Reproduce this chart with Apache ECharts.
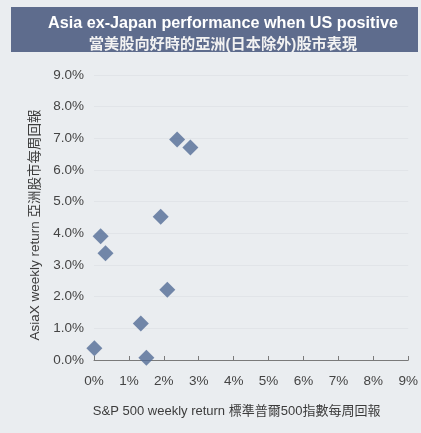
<!DOCTYPE html>
<html>
<head>
<meta charset="utf-8">
<script src="https://cdn.jsdelivr.net/npm/echarts@6/dist/echarts.min.js"></script>
<style>
  html, body { margin: 0; padding: 0; background: #eaedf0; }
  #chart { width: 421px; height: 433px; }
</style>
</head>
<body>
<div id="chart"></div>
<script>
// S&P 500 weekly return (%) vs AsiaX weekly return (%)
const spReturn   = [2.38, 2.76, 1.91, 0.19, 0.33, 2.10, 1.34, 0.01, 1.50];
const asiaReturn = [6.96, 6.71, 4.52, 3.91, 3.37, 2.22, 1.15, 0.37, 0.07];

const titleLine1 = 'Asia ex-Japan performance when US positive';
const titleLine2 = '當美股向好時的亞洲(日本除外)股市表現';
const xName = 'S&P 500 weekly return 標準普爾500指數每周回報';
const yName = 'AsiaX weekly return 亞洲股市每周回報';

const font = 'Arial, "Liberation Sans", "Noto Sans CJK TC", sans-serif';

const chart = echarts.init(document.getElementById('chart'));

const option = {
  backgroundColor: '#eaedf0',
  animation: false,
  graphic: [
    {
      type: 'rect',
      shape: { x: 11, y: 7, width: 407, height: 45 },
      style: { fill: '#5e6c8d' },
      z: 0
    }
  ],
  title: {
    text: titleLine1,
    subtext: titleLine2,
    left: 218,
    top: 10,
    textAlign: 'center',
    itemGap: 4,
    textStyle: { color: '#ffffff', fontSize: 16.2, fontWeight: 'bold', fontFamily: font, lineHeight: 18 },
    subtextStyle: { color: '#f2f2f2', fontSize: 15.2, fontWeight: 'bold', fontFamily: font, lineHeight: 16 },
    z: 5
  },
  grid: { left: 94, right: 11, top: 75, bottom: 73 },
  xAxis: {
    type: 'value',
    min: 0,
    max: 9,
    interval: 1,
    name: xName,
    nameLocation: 'middle',
    nameGap: 45,
    nameTextStyle: { color: '#3c3c3c', fontSize: 13, fontFamily: font, padding: [0, 29, 0, 0] },
    axisLine: { show: true, lineStyle: { color: '#7a7a7a', width: 1 } },
    axisTick: { show: true, inside: true, length: 4, lineStyle: { color: '#7a7a7a' } },
    axisLabel: { color: '#444', fontSize: 13.5, fontFamily: font, margin: 15, formatter: v => v + '%' },
    splitLine: { show: false }
  },
  yAxis: {
    type: 'value',
    min: 0,
    max: 9,
    interval: 1,
    name: yName,
    nameLocation: 'middle',
    nameGap: 50,
    nameTextStyle: { color: '#3c3c3c', fontSize: 13.5, fontFamily: font, padding: [0, 15, 0, 0] },
    axisLine: { show: false },
    axisTick: { show: false },
    axisLabel: { color: '#444', fontSize: 13.5, fontFamily: font, margin: 10, formatter: v => v.toFixed(1) + '%' },
    splitLine: { show: true, lineStyle: { color: '#e1e4e8', width: 1 } }
  },
  series: [
    {
      type: 'scatter',
      symbol: 'diamond',
      symbolSize: 16,
      itemStyle: { color: '#526c96' },
      data: spReturn.map((x, i) => [x, asiaReturn[i]])
    }
  ]
};

chart.setOption(option);
</script>
</body>
</html>
